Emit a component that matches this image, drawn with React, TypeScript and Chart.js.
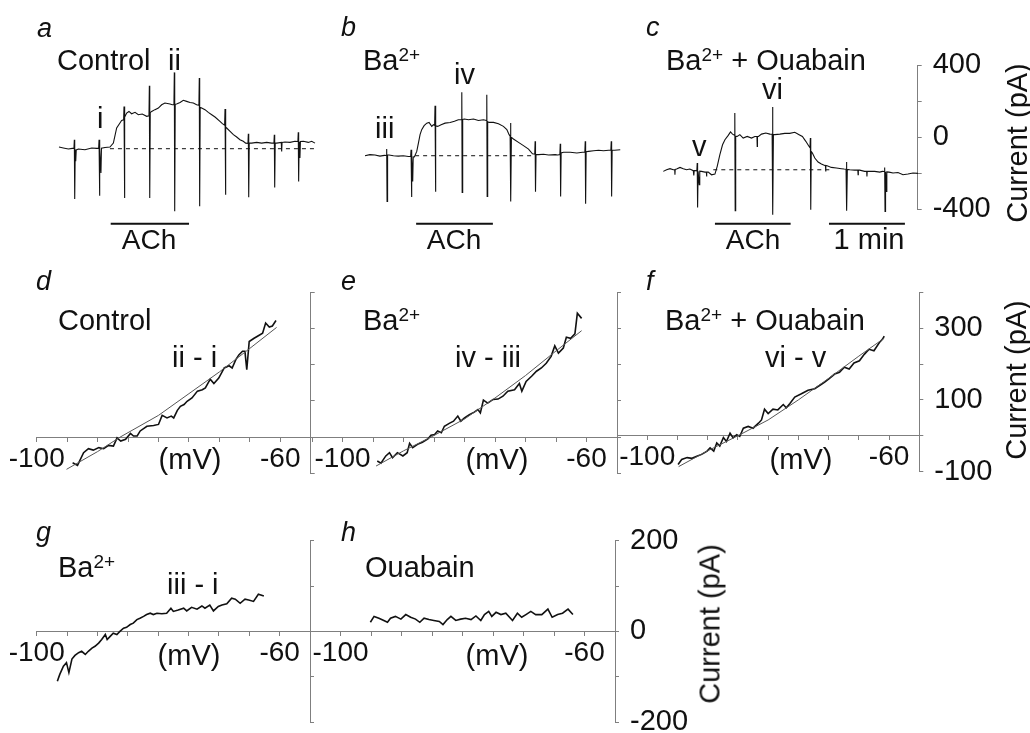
import React, { useEffect, useRef } from 'react';
import { Chart, registerables } from 'chart.js';

Chart.register(...registerables);

const FONT = "'Liberation Sans', Arial, Helvetica, sans-serif";
const INK = '#111111';
const AXIS = '#7f7f7f';
const FIT = '#555555';
Chart.defaults.font.family = FONT;

// ---------- top row: current traces, [time (s), current (pA)] ----------
const traceA: number[][] = [
  [0, -56], [3.4, -61], [7.4, -67], [10.5, -63],
  [11.8, -63], [12.1, -15], [12.4, -345], [12.8, -70], [13.2, -135], [13.6, -72],
  [15.3, -67], [20.5, -71], [25.8, -61], [29.7, -63],
  [31.3, -62], [31.6, -15], [31.9, -326], [32.3, -64], [33.1, -200], [33.5, -62],
  [36.3, -58], [40.2, -56], [42.9, -34], [45.5, 50], [48.1, 78], [49.4, 92],
  [51.0, 95], [51.3, 170], [51.6, -339], [52.0, 110],
  [53.4, 133], [55.2, 142], [57.3, 129], [60.0, 137], [62.6, 124], [65.7, 128], [69.2, 115],
  [71.0, 118], [71.3, 285], [71.6, -339], [72.0, 135],
  [73.1, 142], [75.7, 152], [78.4, 161], [81.0, 179], [83.6, 189], [87.6, 183], [89.4, 179],
  [90.7, 180], [91.0, 359], [91.3, -413], [91.7, 182],
  [92.8, 183], [95.5, 192], [98.1, 204], [100.7, 198], [103.4, 192], [106.0, 189], [108.6, 179],
  [110.4, 176], [110.7, 328], [111.0, -385], [111.4, 165],
  [112.6, 161], [115.2, 152], [117.8, 137], [120.5, 124], [123.1, 111], [127.0, 87], [128.9, 74],
  [130.7, 65], [131.0, 155], [131.3, -321], [131.7, 55],
  [132.3, 50], [135.0, 31], [137.6, 13], [140.2, 0], [142.8, -15], [145.4, -24], [147.3, -34],
  [149.1, -36], [149.4, 18], [149.7, -335], [150.1, -34],
  [152.0, -34], [156.0, -30], [159.9, -34], [163.9, -30], [167.8, -34],
  [169.6, -34], [169.9, 13], [170.2, -280], [170.6, -34],
  [171.7, -34], [175.4, -30], [175.7, -80], [176.0, -30], [178.3, -28], [182.3, -30], [186.2, -24],
  [188.5, -25], [188.8, 26], [189.1, -247], [189.5, -26], [190.1, -117], [190.5, -25],
  [192.8, -24], [196.7, -30], [199.4, -24], [202.0, -34],
];

const traceB: number[][] = [
  [0, -104], [3.9, -98], [7.9, -100], [11.8, -106], [15.3, -102],
  [16.8, -103], [17.1, -67], [17.4, -358], [17.8, -100],
  [18.9, -100], [22.4, -104], [26.3, -106], [30.2, -104], [34.2, -108],
  [36.0, -108], [36.3, -71], [36.6, -333], [37.0, -108], [37.6, -247], [38.0, -110],
  [38.9, -111], [40.8, -80], [42.1, -34], [43.4, 13], [44.7, 41], [46.6, 63], [48.7, 77], [50.5, 81], [52.6, 59], [53.9, 68],
  [54.9, 65], [55.2, 174], [55.5, -304], [55.9, 62],
  [57.3, 59], [60.0, 68], [63.1, 77], [67.1, 81], [70.5, 87], [73.6, 96],
  [76.0, 97], [76.3, 248], [76.6, -308], [77.0, 98],
  [78.4, 100], [81.5, 96], [85.5, 100], [89.4, 92], [93.4, 96],
  [95.7, 92], [96.0, 235], [96.3, -330], [96.7, 85],
  [97.8, 81], [101.3, 81], [105.2, 74], [109.1, 59], [111.8, 41], [113.6, 13],
  [114.4, 5], [114.7, 78], [115.0, -358], [115.4, -2],
  [117.0, -11], [121.0, -30], [124.9, -48], [128.9, -67], [132.0, -93],
  [133.8, -95], [134.1, -24], [134.4, -304], [134.8, -97],
  [136.8, -98], [140.7, -96], [144.7, -100], [149.9, -98], [152.0, -100],
  [153.6, -98], [153.9, -37], [154.2, -330], [154.6, -88],
  [156.5, -85], [161.7, -85], [167.0, -89], [171.5, -85],
  [173.3, -84], [173.6, -24], [173.9, -371], [174.3, -82],
  [176.2, -80], [180.2, -76], [184.1, -74], [188.0, -76], [192.0, -74],
  [193.8, -74], [194.1, -24], [194.4, -330], [194.8, -74],
  [196.7, -74], [201.2, -71],
];

const traceC: number[][] = [
  [0, -191], [2.6, -182], [5.3, -176], [7.9, -182], [9.0, -182], [9.2, -210], [9.4, -180], [10.5, -178],
  [13.2, -169], [15.8, -176], [18.4, -182], [21.0, -178], [23.7, -187], [24.0, -187], [24.2, -213], [24.4, -187], [25.2, -187],
  [26.5, -188], [26.8, -145], [27.1, -391], [27.5, -190], [28.4, -265], [28.8, -190],
  [30.2, -191], [32.9, -195], [34.0, -195], [34.2, -219], [34.4, -195], [35.5, -195], [38.1, -210], [40.8, -206],
  [42.6, -163], [44.7, -98], [46.8, -43], [48.7, -15], [51.3, 9], [53.1, 28], [54.7, 16],
  [56.2, 10], [56.5, 133], [56.8, -410], [57.2, 5],
  [58.4, 3], [60.5, 13], [63.1, -6], [66.3, 3], [69.7, -6], [72.3, 3], [74.0, 3], [74.2, -52], [74.4, 3], [75.2, 3],
  [77.6, 16], [81.0, 22], [84.2, 16],
  [86.0, 15], [86.3, 166], [86.6, -432], [87.0, 14],
  [88.1, 13], [92.1, 16], [96.0, 20], [99.9, 20], [103.9, 26], [107.3, 13], [109.9, 3], [112.6, -24], [114.7, -47],
  [115.9, -60], [116.2, -6], [116.5, -404], [116.9, -80],
  [117.8, -89], [119.7, -117], [122.3, -139], [124.9, -150], [127.6, -158], [128.1, -158], [128.3, -191], [128.5, -158],
  [129.4, -160], [132.8, -169], [136.8, -172], [140.7, -176], [142.8, -178],
  [144.4, -179], [144.7, -139], [145.0, -410], [145.4, -180],
  [147.3, -182], [151.2, -184], [153.7, -184], [153.9, -210], [154.1, -184], [155.2, -184], [159.1, -191],
  [160.7, -191], [160.9, -219], [161.1, -191], [162.5, -191], [167.0, -191], [171.0, -195], [173.1, -191],
  [174.6, -192], [174.9, -169], [175.2, -413], [175.6, -193], [176.2, -302], [176.6, -194],
  [178.3, -195], [181.5, -200], [185.4, -197], [189.4, -210], [193.3, -206], [197.3, -200], [201.2, -202],
];

const baselineA: number[][] = [[40.2, -65], [202, -65]];
const baselineB: number[][] = [[39.5, -104], [132.5, -104]];
const baselineC: number[][] = [[39.5, -182], [131.5, -182]];

// ACh application and 1-min scale bar, in seconds
const achA = [40.8, 102.6];
const achB = [40.3, 100.8];
const achC = [40.8, 100.6];
const oneMinC = [130.9, 190.9];
const BAR_LEVEL = -482; // pA level at which the bars sit

const traceTickLabels = [400, 0, -400];

// ---------- I-V curves, [voltage (mV), current (pA)] ----------
const ivD: number[][] = [
  [-94.1, -71], [-93.3, -78], [-92.3, -43], [-91.5, -32], [-90.7, -36], [-89.8, -29], [-89.0, -32], [-88.2, -23],
  [-87.4, -25], [-86.8, -2], [-86.2, -11], [-85.4, -6], [-84.6, 10], [-84.1, 3], [-83.5, 3], [-83.0, 17],
  [-81.9, 30], [-80.8, 32], [-80.0, 35], [-79.4, 60], [-78.6, 53], [-77.9, 58], [-77.5, 53], [-76.9, 74],
  [-76.4, 85], [-75.8, 90], [-75.3, 99], [-74.5, 108], [-73.6, 127], [-72.8, 131], [-72.3, 136], [-71.5, 160],
  [-70.9, 148], [-70.1, 163], [-69.2, 191], [-68.4, 197], [-67.9, 191], [-67.3, 214], [-66.8, 227], [-66.2, 237],
  [-65.8, 237], [-65.5, 186], [-65.1, 264], [-64.3, 273], [-63.6, 280], [-62.9, 287], [-62.4, 315], [-61.8, 304],
  [-61.3, 307], [-60.7, 322],
];
const fitD: number[][] = [[-95.1, -89], [-90, -40], [-86.3, 0], [-80, 60], [-75, 120], [-70, 180], [-65, 245], [-60.6, 303]];

const ivE: number[][] = [
  [-94.3, -66], [-93.7, -72], [-92.9, -52], [-92.3, -43], [-91.8, -57], [-91.0, -43], [-90.1, -52], [-89.4, -43],
  [-89.0, -17], [-88.5, -29], [-87.7, -20], [-86.9, -14], [-86.0, -5], [-85.5, 5], [-84.9, 7], [-84.4, 17],
  [-83.8, 12], [-83.3, 30], [-82.5, 38], [-81.8, 44], [-81.1, 58], [-80.6, 44], [-80.0, 53], [-79.2, 62],
  [-78.4, 69], [-77.8, 76], [-77.4, 67], [-76.9, 102], [-76.2, 94], [-75.3, 104], [-74.5, 105], [-73.7, 113],
  [-72.9, 127], [-71.8, 131], [-71.0, 148], [-70.6, 127], [-69.9, 154], [-69.0, 168], [-68.2, 182], [-67.4, 191],
  [-66.6, 204], [-65.8, 223], [-65.2, 252], [-64.6, 232], [-63.8, 246], [-63.3, 276], [-62.6, 273], [-61.9, 285],
  [-61.5, 342], [-60.8, 328],
];
const fitE: number[][] = [[-94.5, -80], [-90, -38], [-85.5, 0], [-80, 50], [-75, 108], [-70, 170], [-65, 238], [-60.8, 294]];

const ivF: number[][] = [
  [-94.9, -80], [-94.3, -66], [-93.4, -61], [-92.6, -63], [-91.8, -57], [-91.0, -52], [-90.1, -43], [-89.6, -34],
  [-89.0, -43], [-88.5, -20], [-88.0, -29], [-87.4, -5], [-86.9, -16], [-86.3, 7], [-85.8, -6], [-85.2, 3],
  [-84.7, -2], [-84.1, 21], [-83.3, 26], [-82.5, 21], [-81.6, 35], [-81.1, 44], [-80.6, 74], [-80.0, 62],
  [-79.2, 74], [-78.4, 72], [-77.5, 87], [-77.0, 78], [-76.4, 90], [-75.6, 108], [-74.5, 117], [-73.4, 127],
  [-72.3, 131], [-71.5, 140], [-70.7, 149], [-69.9, 159], [-69.0, 172], [-68.2, 177], [-67.4, 191], [-66.6, 186],
  [-65.8, 203], [-64.9, 209], [-64.1, 227], [-63.3, 241], [-62.5, 237], [-61.6, 260], [-61.1, 269], [-60.8, 278],
];
const fitF: number[][] = [[-94.8, -86], [-90, -42], [-85, 0], [-80, 44], [-75, 100], [-70, 160], [-65, 222], [-60.8, 272]];

const ivG: number[][] = [
  [-96.6, -110], [-96.2, -95], [-95.6, -77], [-95.1, -69], [-94.7, -91], [-94.2, -61], [-93.7, -53], [-93.1, -47],
  [-92.6, -44], [-92.0, -51], [-91.5, -44], [-90.9, -37], [-90.4, -33], [-89.8, -26], [-89.3, -18], [-88.7, -7],
  [-88.4, -18], [-87.9, -11], [-87.4, -4], [-86.8, -7], [-86.3, 0], [-85.7, 7], [-85.2, 9], [-84.6, 15],
  [-84.1, 18], [-83.5, 26], [-83.0, 29], [-82.4, 33], [-81.9, 37], [-81.3, 40], [-80.8, 37], [-80.2, 40],
  [-79.4, 39], [-78.6, 40], [-77.9, 51], [-77.5, 44], [-76.7, 47], [-75.8, 51], [-75.3, 45], [-74.5, 53],
  [-73.6, 49], [-72.8, 56], [-72.3, 51], [-71.5, 58], [-70.9, 45], [-70.1, 55], [-69.5, 58], [-68.7, 61],
  [-67.9, 73], [-67.3, 71], [-66.5, 62], [-65.7, 71], [-65.1, 69], [-64.3, 66], [-63.5, 82], [-62.6, 78],
];

const ivH: number[][] = [
  [-95.1, 20], [-94.5, 33], [-93.7, 29], [-92.9, 24], [-92.3, 20], [-91.8, 29], [-91.0, 33], [-90.1, 27],
  [-89.3, 37], [-88.5, 31], [-87.7, 27], [-87.0, 20], [-86.3, 29], [-85.5, 26], [-84.7, 24], [-83.8, 22],
  [-83.2, 15], [-82.5, 26], [-81.9, 33], [-81.1, 24], [-80.3, 27], [-79.5, 29], [-78.6, 26], [-77.8, 34],
  [-77.0, 24], [-76.4, 37], [-75.7, 44], [-75.2, 33], [-74.5, 42], [-73.7, 37], [-72.9, 40], [-71.8, 24],
  [-71.0, 40], [-70.3, 31], [-69.6, 37], [-68.8, 44], [-68.0, 37], [-67.0, 37], [-66.0, 49], [-65.3, 31],
  [-64.4, 37], [-63.6, 40], [-62.7, 49], [-61.9, 37],
];

const ivXLabels = [-100, -60];
const ivTopYLabels = [300, 100, -100];
const ivBottomYLabels = [200, 0, -200];

// ---------- helpers ----------
type Box = { left: number; top: number; width: number; height: number };
type Area = { left: number; top: number; right: number; bottom: number };

function padFor(box: Box, area: Area, axisW: number) {
  return {
    left: area.left - box.left,
    top: area.top - box.top,
    right: box.left + box.width - area.right - axisW,
    bottom: box.top + box.height - area.bottom,
  };
}

function lineDs(arr: number[][], color: string, width: number, dash: number[] = []) {
  return {
    data: arr.map(([x, y]) => ({ x, y })),
    borderColor: color,
    borderWidth: width,
    borderDash: dash,
    pointRadius: 0,
    pointHoverRadius: 0,
    tension: 0,
    fill: false,
    clip: false,
  };
}
function barDs(range: number[]) {
  return lineDs([[range[0], BAR_LEVEL], [range[1], BAR_LEVEL]], INK, 2);
}

const gridOpts = () => ({ drawOnChartArea: false, drawTicks: true, tickLength: 4, color: AXIS, tickColor: AXIS, lineWidth: 1 });
const borderOpts = () => ({ display: true, color: AXIS, width: 1 });

function rightAxis(min: number, max: number, step: number, labels: number[] | null, width: number) {
  return {
    type: 'linear',
    position: 'right',
    min,
    max,
    afterFit: (s: any) => { s.width = width; },
    ticks: {
      stepSize: step,
      display: !!labels,
      padding: 11,
      autoSkip: false,
      font: { family: FONT, size: 29 },
      color: INK,
      callback: (v: any) => {
        const r = Math.round(Number(v));
        return labels && labels.includes(r) ? String(r) : '';
      },
    },
    grid: gridOpts(),
    border: borderOpts(),
  };
}

function ivX(min: number) {
  return {
    type: 'linear',
    min,
    max: -55,
    position: { y: 0 },
    ticks: {
      stepSize: 5,
      autoSkip: false,
      maxRotation: 0,
      minRotation: 0,
      padding: 1,
      font: { family: FONT, size: 28 },
      color: INK,
      callback: (v: any) => {
        const r = Math.round(Number(v));
        return ivXLabels.includes(r) ? String(r) : '';
      },
    },
    grid: gridOpts(),
    border: borderOpts(),
  };
}

const hidden = (min: number, max: number) => ({ type: 'linear', min, max, display: false });

type Panel = { box: Box; area: Area; axisW: number; datasets: () => any[]; scales: () => any };

const PANELS: Panel[] = [
  {
    box: { left: 30, top: 20, width: 310, height: 240 },
    area: { left: 59, top: 65, right: 315, bottom: 209 },
    axisW: 0,
    datasets: () => [lineDs(baselineA, INK, 1, [4, 4]), lineDs(traceA, INK, 1.1), barDs(achA)],
    scales: () => ({ x: hidden(0, 202), y: hidden(-400, 400) }),
  },
  {
    box: { left: 340, top: 20, width: 300, height: 240 },
    area: { left: 365, top: 65, right: 620, bottom: 209 },
    axisW: 0,
    datasets: () => [lineDs(baselineB, INK, 1, [4, 4]), lineDs(traceB, INK, 1.1), barDs(achB)],
    scales: () => ({ x: hidden(0, 201), y: hidden(-400, 400) }),
  },
  {
    box: { left: 640, top: 20, width: 390, height: 240 },
    area: { left: 663.3, top: 65, right: 917.7, bottom: 209 },
    axisW: 112.3,
    datasets: () => [lineDs(baselineC, INK, 1, [4, 4]), lineDs(traceC, INK, 1.1), barDs(achC), barDs(oneMinC)],
    scales: () => ({ x: hidden(0, 201), y: rightAxis(-400, 400, 200, traceTickLabels, 112.3) }),
  },
  {
    box: { left: 0, top: 260, width: 322, height: 240 },
    area: { left: 36.7, top: 292.3, right: 310.7, bottom: 473.3 },
    axisW: 10,
    datasets: () => [lineDs(fitD, FIT, 1), lineDs(ivD, INK, 1.6)],
    scales: () => ({ x: ivX(-100), y: rightAxis(-100, 400, 100, null, 10) }),
  },
  {
    box: { left: 305, top: 260, width: 323, height: 240 },
    area: { left: 312, top: 292.3, right: 617, bottom: 473.3 },
    axisW: 10,
    datasets: () => [lineDs(fitE, FIT, 1), lineDs(ivE, INK, 1.6)],
    scales: () => ({ x: ivX(-105), y: rightAxis(-100, 400, 100, null, 10) }),
  },
  {
    box: { left: 610, top: 260, width: 420, height: 240 },
    area: { left: 617, top: 292.3, right: 919.3, bottom: 473.3 },
    axisW: 110.7,
    datasets: () => [lineDs(fitF, FIT, 1), lineDs(ivF, INK, 1.6)],
    scales: () => ({ x: ivX(-105), y: rightAxis(-100, 400, 100, ivTopYLabels, 110.7) }),
  },
  {
    box: { left: 0, top: 500, width: 322, height: 260 },
    area: { left: 36.7, top: 540.7, right: 310, bottom: 722 },
    axisW: 10,
    datasets: () => [lineDs(ivG, INK, 1.6)],
    scales: () => ({ x: ivX(-100), y: rightAxis(-200, 200, 100, null, 10) }),
  },
  {
    box: { left: 303, top: 500, width: 412, height: 260 },
    area: { left: 310, top: 540.7, right: 615, bottom: 722 },
    axisW: 100,
    datasets: () => [lineDs(ivH, INK, 1.6)],
    scales: () => ({ x: ivX(-105), y: rightAxis(-200, 200, 100, ivBottomYLabels, 100) }),
  },
];

// ---------- text ----------
const Label = ({ x, y, size = 29, italic = false, center = false, children }: any) => (
  <div
    style={{
      position: 'absolute',
      left: x,
      top: y - 0.8465 * size,
      fontSize: size,
      lineHeight: `${size}px`,
      fontFamily: FONT,
      fontStyle: italic ? 'italic' : 'normal',
      whiteSpace: 'nowrap',
      color: INK,
      transform: center ? 'translateX(-50%)' : undefined,
    }}
  >
    {children}
  </div>
);
const Sup = ({ children }: any) => (
  <span style={{ fontSize: 19, lineHeight: 0, verticalAlign: '9px' }}>{children}</span>
);
const VLabel = ({ x, y, children }: any) => (
  <div
    style={{
      position: 'absolute',
      left: x,
      top: y,
      fontSize: 29,
      lineHeight: '29px',
      fontFamily: FONT,
      whiteSpace: 'nowrap',
      color: INK,
      transform: 'translate(-50%, -50%) rotate(-90deg)',
    }}
  >
    {children}
  </div>
);

export default function App() {
  const refs = useRef<(HTMLCanvasElement | null)[]>([]);

  useEffect(() => {
    const charts = PANELS.map((p, i) =>
      new Chart(refs.current[i] as HTMLCanvasElement, {
        type: 'line',
        data: { datasets: p.datasets() },
        options: {
          responsive: false,
          animation: false,
          events: [],
          layout: { padding: padFor(p.box, p.area, p.axisW) },
          plugins: { legend: { display: false }, tooltip: { enabled: false }, title: { display: false } },
          scales: p.scales(),
        } as any,
      })
    );
    return () => charts.forEach((c) => c.destroy());
  }, []);

  return (
    <div style={{ position: 'absolute', left: 0, top: 0, width: 1030, height: 733, overflow: 'hidden', background: '#ffffff' }}>
      {PANELS.map((p, i) => (
        <canvas
          key={i}
          ref={(el) => { refs.current[i] = el; }}
          width={p.box.width}
          height={p.box.height}
          style={{ position: 'absolute', left: p.box.left, top: p.box.top, width: p.box.width, height: p.box.height }}
        />
      ))}

      {/* row 1 */}
      <Label x={37} y={38} size={27} italic>a</Label>
      <Label x={57} y={71}>Control</Label>
      <Label x={168} y={71}>ii</Label>
      <Label x={97} y={129}>i</Label>
      <Label x={149} y={250} size={28} center>ACh</Label>

      <Label x={341} y={37} size={27} italic>b</Label>
      <Label x={363} y={71}>Ba<Sup>2+</Sup></Label>
      <Label x={454} y={85}>iv</Label>
      <Label x={375} y={139}>iii</Label>
      <Label x={454} y={250} size={28} center>ACh</Label>

      <Label x={646} y={37} size={27} italic>c</Label>
      <Label x={666} y={71}>Ba<Sup>2+</Sup> + Ouabain</Label>
      <Label x={762} y={100}>vi</Label>
      <Label x={692} y={157}>v</Label>
      <Label x={753} y={250} size={28} center>ACh</Label>
      <Label x={869} y={250} center>1 min</Label>
      <VLabel x={1017} y={143}>Current (pA)</VLabel>

      {/* row 2 */}
      <Label x={36} y={291} size={27} italic>d</Label>
      <Label x={58} y={331}>Control</Label>
      <Label x={172} y={368}>ii - i</Label>
      <Label x={190} y={470} center>(mV)</Label>

      <Label x={341} y={291} size={27} italic>e</Label>
      <Label x={363} y={331}>Ba<Sup>2+</Sup></Label>
      <Label x={455} y={368}>iv - iii</Label>
      <Label x={497} y={470} center>(mV)</Label>

      <Label x={646} y={291} size={27} italic>f</Label>
      <Label x={665} y={331}>Ba<Sup>2+</Sup> + Ouabain</Label>
      <Label x={765} y={368}>vi - v</Label>
      <Label x={801} y={470} center>(mV)</Label>
      <VLabel x={1016} y={380}>Current (pA)</VLabel>

      {/* row 3 */}
      <Label x={36} y={542} size={27} italic>g</Label>
      <Label x={58} y={578}>Ba<Sup>2+</Sup></Label>
      <Label x={167} y={595}>iii - i</Label>
      <Label x={189} y={666} center>(mV)</Label>

      <Label x={341} y={542} size={27} italic>h</Label>
      <Label x={365} y={578}>Ouabain</Label>
      <Label x={497} y={666} center>(mV)</Label>
      <VLabel x={710} y={624}>Current (pA)</VLabel>
    </div>
  );
}
